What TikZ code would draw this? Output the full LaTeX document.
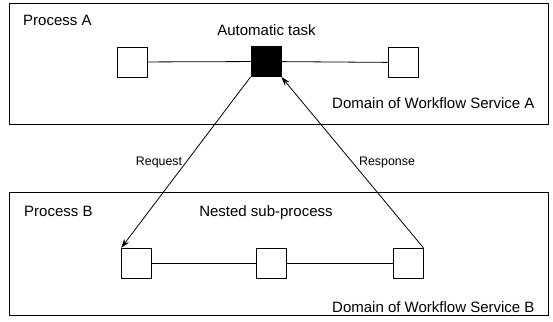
\documentclass[tikz,border=0pt]{standalone}
\usepackage{fontspec}
\setmainfont{Liberation Sans}
\usetikzlibrary{arrows.meta}
\tikzset{
  wfdomain/.style={draw, line width=1pt},
  task/.style={draw, line width=0.9pt, minimum size=30pt, inner sep=0pt, fill=white},
  autotask/.style={task, fill=black},
  link/.style={line width=0.8pt},
  flow/.style={line width=0.8pt, -{Stealth[length=9pt,width=6pt]}},
  lbl/.style={inner sep=0pt, font=\fontsize{15}{17}\selectfont},
  small/.style={inner sep=0pt, font=\fontsize{12.4}{14}\selectfont},
}
\begin{document}
\begin{tikzpicture}[x=1pt, y=-1pt]
  \useasboundingbox (0,0) rectangle (553,321);
  % workflow domains
  \draw[wfdomain] (9,3.5) rectangle (548,124.5);
  \draw[wfdomain] (9,192) rectangle (548,315);

  % process A
  \node[lbl, anchor=base west] (pa) at (23,25.7) {Process A};
  \node[lbl, anchor=base] (at) at (266.5,35.7) {Automatic task};
  \node[lbl, anchor=base west] (da) at (332,108.7) {Domain of Workflow Service A};
  \node[task] (a1) at (132,62) {};
  \node[autotask] (a2) at (266,61.5) {};
  \node[task] (a3) at (403,62.5) {};
  \draw[link] (a1) -- (a2);
  \draw[link] (a2) -- (a3);

  % process B
  \node[lbl, anchor=base west] (pb) at (24,216.5) {Process B};
  \node[lbl, anchor=base] (ns) at (266,216.5) {Nested sub-process};
  \node[lbl, anchor=base west] (db) at (332,312.7) {Domain of Workflow Service B};
  \node[task] (b1) at (136.7,263.3) {};
  \node[task] (b2) at (271,263.3) {};
  \node[task] (b3) at (408,263.3) {};
  \draw[link] (b1) -- (b2);
  \draw[link] (b2) -- (b3);

  % request / response
  \draw[flow] (a2.south west) -- (b1.north west);
  \draw[flow] (b3.north east) -- (a2.south east);
  \node[small] (rq) at (159,163) {Request};
  \node[small] (rs) at (387,163) {Response};
\end{tikzpicture}
\end{document}
